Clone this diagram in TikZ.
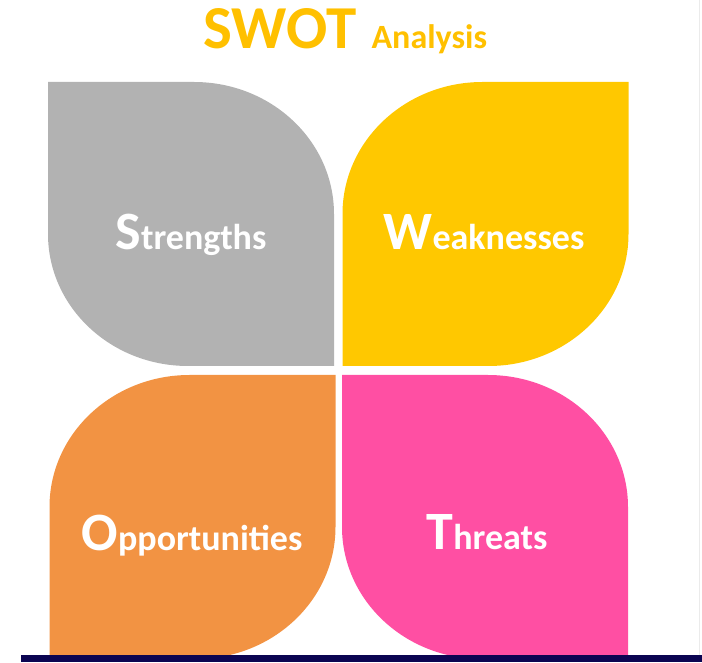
\documentclass[tikz,border=0pt]{standalone}
\usepackage{fontspec}
\setmainfont{Carlito}
\usetikzlibrary{positioning}
\definecolor{swotGray}{HTML}{B2B2B2}
\definecolor{swotYellow}{HTML}{FFC800}
\definecolor{swotOrange}{HTML}{F29343}
\definecolor{swotPink}{HTML}{FF4FA3}
\definecolor{swotTitle}{HTML}{FFC000}
\definecolor{swotNavy}{HTML}{0B0552}
\newcommand{\capLetter}[1]{{\fontsize{54}{54}\selectfont #1}}
\tikzset{
    leaf/.pic={
		\fill[#1] (-143,142) -- (3,142) arc[start angle=90,end angle=0,x radius=140,y radius=132]
			-- (143,-142) -- (-3,-142) arc[start angle=270,end angle=180,x radius=140,y radius=132] -- cycle;
	}
}
\tikzset{
    leafLabel/.style={anchor=base, text=white, inner sep=0pt, font=\bfseries\fontsize{36}{36}\selectfont},
    titleText/.style={anchor=base west, text=swotTitle, inner sep=0pt}
}

\begin{document}
\begin{tikzpicture}[x=1pt,y=1pt]
        \useasboundingbox (0,0) rectangle (702,662);
        \pic at(191,438) {leaf={swotGray}};
        \pic[xscale=-1] at(485.5,438) {leaf={swotYellow}};
        \pic[xscale=-1] at(192.5,145) {leaf={swotOrange}};
        \pic at(485,145) {leaf={swotPink}};
        \fill[swotNavy] (21,0) rectangle (702,7);
        \draw[black!8] (699,7) -- (699,662);
        \node[leafLabel] (strengths) at (191,412) {\capLetter{S}trengths};
        \node[leafLabel] (weaknesses) at (484,412) {\capLetter{W}eaknesses};
        \node[leafLabel] (opportunities) at (192,111) {\capLetter{O}pportunities};
        \node[leafLabel] (threats) at (487,112) {\capLetter{T}hreats};
        \node[titleText, font=\bfseries\fontsize{61}{61}\selectfont] (swot) at (203,613) {SWOT};
        \node[titleText, font=\bfseries\fontsize{34}{34}\selectfont, right=15pt of swot.base east, anchor=base west] (analysis) {Analysis};
      \end{tikzpicture}
\end{document}
